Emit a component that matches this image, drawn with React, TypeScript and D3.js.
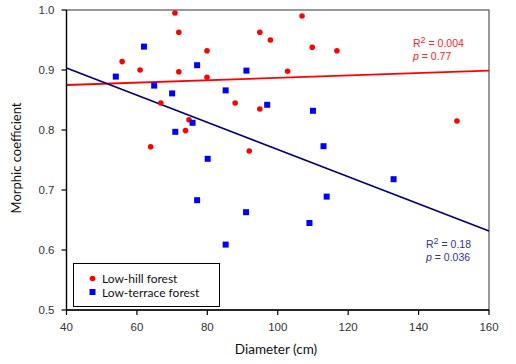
import React from "react";
import * as d3 from "d3";

// Low-hill forest (red circles): diameter (cm), morphic coefficient
const hillDiameter = [70.8, 71.9, 55.8, 60.9, 71.9, 79.9, 79.9, 66.8, 74.8, 73.8, 63.9, 87.9, 91.9, 94.9, 106.9, 97.9, 109.8, 116.8, 102.8, 94.9, 150.9];
const hillMorphic = [0.995, 0.963, 0.914, 0.9, 0.897, 0.932, 0.888, 0.845, 0.817, 0.799, 0.772, 0.845, 0.765, 0.963, 0.99, 0.95, 0.938, 0.932, 0.898, 0.835, 0.815];

// Low-terrace forest (blue squares)
const terraceDiameter = [54, 62, 64.9, 70, 70.9, 75.8, 77.1, 80.1, 85.2, 91.1, 77.1, 85.2, 91, 97, 110, 113, 132.9, 113.9, 109];
const terraceMorphic = [0.889, 0.939, 0.874, 0.861, 0.797, 0.812, 0.908, 0.752, 0.866, 0.899, 0.683, 0.609, 0.663, 0.842, 0.832, 0.773, 0.718, 0.689, 0.645];

// regression lines: [intercept, slope]
const hillFit = [0.867, 0.0002];
const terraceFit = [0.9938, -0.002263];

const xTicks = [40, 60, 80, 100, 120, 140, 160];
const yTicks = [0.5, 0.6, 0.7, 0.8, 0.9, 1.0];

const App: React.FC = () => {
  const width = 516;
  const height = 364;
  const margin = { top: 10, right: 27, bottom: 54, left: 66.5 };

  const x = d3.scaleLinear().domain([40, 160]).range([margin.left, width - margin.right]);
  const y = d3.scaleLinear().domain([0.5, 1.0]).range([height - margin.bottom, margin.top]);

  const fitPath = (fit: number[]) =>
    d3
      .line<number>()
      .x((d) => x(d))
      .y((d) => y(fit[0] + fit[1] * d))([40, 160]);

  const axisFont = "'Liberation Sans', Arial, sans-serif";
  const labelFont = "Lato, 'Open Sans', sans-serif";

  return (
    <svg
      width={width}
      height={height}
      style={{ position: "absolute", left: 0, top: 0, background: "#fff" }}
    >
      {/* frame */}
      <rect
        x={x(40)}
        y={y(1.0)}
        width={x(160) - x(40)}
        height={y(0.5) - y(1.0)}
        fill="none"
        stroke="#555"
        strokeWidth={1.2}
      />

      {/* regression lines */}
      <path d={fitPath(hillFit) || ""} stroke="#ff0000" strokeWidth={1.8} fill="none" />
      <path d={fitPath(terraceFit) || ""} stroke="#000080" strokeWidth={1.8} fill="none" />

      {/* points */}
      {hillDiameter.map((d, i) => (
        <circle key={"h" + i} cx={x(d)} cy={y(hillMorphic[i])} r={2.8} fill="#ff0000" />
      ))}
      {terraceDiameter.map((d, i) => (
        <rect
          key={"t" + i}
          x={x(d) - 3}
          y={y(terraceMorphic[i]) - 3}
          width={6}
          height={6}
          fill="#0000ff"
        />
      ))}

      {/* y axis */}
      <line x1={x(40)} x2={x(40)} y1={y(0.5)} y2={y(1.0)} stroke="#000" strokeWidth={1.3} />
      {yTicks.map((t) => (
        <g key={"y" + t}>
          <line x1={x(40) - 5} x2={x(40)} y1={y(t)} y2={y(t)} stroke="#000" strokeWidth={1.2} />
          <text
            x={x(40) - 12}
            y={y(t) + 4}
            textAnchor="end"
            fontFamily={axisFont}
            fontSize={11.5}
            fill="#333"
          >
            {t.toFixed(1)}
          </text>
        </g>
      ))}

      {/* x axis */}
      <line x1={x(40)} x2={x(160)} y1={y(0.5)} y2={y(0.5)} stroke="#000" strokeWidth={1.3} />
      {xTicks.map((t) => (
        <g key={"x" + t}>
          <line x1={x(t)} x2={x(t)} y1={y(0.5)} y2={y(0.5) + 5} stroke="#000" strokeWidth={1.2} />
          <text
            x={x(t)}
            y={y(0.5) + 21}
            textAnchor="middle"
            fontFamily={axisFont}
            fontSize={11.5}
            fill="#333"
          >
            {t}
          </text>
        </g>
      ))}

      {/* axis titles */}
      <text x={276} y={354} textAnchor="middle" fontFamily={labelFont} fontSize={13.5} fill="#111">
        Diameter (cm)
      </text>
      <text
        transform={`translate(21, 158) rotate(-90)`}
        textAnchor="middle"
        fontFamily={labelFont}
        fontSize={13}
        fill="#111"
      >
        Morphic coefficient
      </text>

      {/* statistics */}
      <g fontFamily={axisFont} fontSize={10.5} fill="#ff2020">
        <text x={413} y={47}>
          R<tspan dy={-4} fontSize={9}>2</tspan>
          <tspan dy={4}> = 0.004</tspan>
        </text>
        <text x={413} y={60}>
          <tspan fontStyle="italic">p</tspan> = 0.77
        </text>
      </g>
      <g fontFamily={axisFont} fontSize={10.5} fill="#3030a0">
        <text x={426} y={248}>
          R<tspan dy={-4} fontSize={9}>2</tspan>
          <tspan dy={4}> = 0.18</tspan>
        </text>
        <text x={426} y={261}>
          <tspan fontStyle="italic">p</tspan> = 0.036
        </text>
      </g>

      {/* legend */}
      <rect x={73.5} y={263.5} width={146} height={43} fill="#fff" stroke="#000" strokeWidth={1} />
      <circle cx={92.5} cy={278.5} r={2.8} fill="#ff0000" />
      <rect x={89.5} y={289} width={6} height={6} fill="#0000ff" />
      <text x={102} y={282.5} fontFamily={labelFont} fontSize={12} fill="#111">
        Low-hill forest
      </text>
      <text x={102} y={296.5} fontFamily={labelFont} fontSize={12} fill="#111">
        Low-terrace forest
      </text>
    </svg>
  );
};

export default App;
